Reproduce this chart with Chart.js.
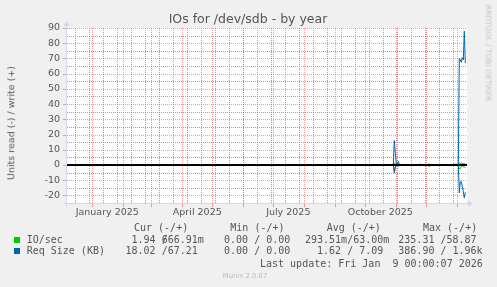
<!DOCTYPE html>
<html>
<head>
<meta charset="utf-8">
<script src="https://cdn.jsdelivr.net/npm/chart.js@4/dist/chart.umd.min.js"></script>
<style>
  html, body { margin: 0; padding: 0; background: #F0F0F0; }
  #wrap { position: relative; width: 497px; height: 287px; overflow: hidden; background: #F0F0F0; }
  #c { position: absolute; left: 0; top: 0; }
  .t { position: absolute; white-space: pre; line-height: 1; color: #555; }
  .mono { font-family: "DejaVu Sans Mono", monospace; font-size: 10px; }
  .sq { position: absolute; width: 6px; height: 6px; }
</style>
</head>
<body>
<div id="wrap">
  <canvas id="c" width="497" height="287"></canvas>
</div>
<script>
// ---------- data (days since 1 Jan 2025) ----------
const days      = [300, 301, 302, 303, 304, 305, 306, 307, 308, 327, 328, 329, 336, 337, 338, 360, 361, 362, 363, 364, 365, 366, 367, 368, 369, 370, 371, 372, 373];
const reqWrite  = [0,   0,   16,  8,   1,   0.5, 2.4, 0.4, 0,   0,   0.8, 0,   0,   0.6, 0,   0,   0.5, 0.3, 0.6, 0.5, 0.4, 0,   70,  69,  67.5, 70.5, 69, 88,  67];
const reqRead   = [0,   0,   -5.3,-1.5,0,   0,   -1,  0,   0,   0,   0,   0,   0,   0,   0,   0,   0,   0,   0,   0,   0,   0,   -18.4,-11,-11, -14, -17.5,-21.7,-18];
const ioWrite   = [0,   0,   1.2, 0.8, 0.5, 0.3, 0.5, 0.2, 0,   0,   0,   0,   0,   0,   0,   0,   0,   0,   0,   0,   0,   0,   1.5, 1.0, 1.2, 0.9, 1.0, 0.8, 1.0];
const ioRead    = [0,   0,   -4,  -1.5,-0.3,0,   0,   0,   0,   0,   0,   0,   0,   -1.2,0,   0,   0,   0,   0,   0,   0,   0,   -2.5,-2.5,-1,  -0.5,-1.2,-1.5,-1.5];

const xMin = -25.3, xMax = 374.7;           // visible range in days
const yMin = -25, yMax = 90;
const yTicks = [-20, -10, 0, 10, 20, 30, 40, 50, 60, 70, 80, 90];
const xLabelDays = [15, 105, 196, 288];
const xLabels = ['January 2025', 'April 2025', 'July 2025', 'October 2025'];
const monthStarts = [0, 31, 59, 90, 120, 151, 181, 212, 243, 273, 304, 334, 365];
const minorStart = -17, minorStep = 14;

// ---------- texts ----------
const title = 'IOs for /dev/sdb - by year';
const yTitle = 'Units read (-) / write (+)';
const watermark = 'RRDTOOL / TOBI OETIKER';
const footer = 'Munin 2.0.67';
const lastUpdate = 'Last update: Fri Jan  9 00:00:07 2026';
const legendHeader = 'Cur (-/+)       Min (-/+)       Avg (-/+)       Max (-/+)';
const legendNames = ['IO/sec', 'Req Size (KB)'];
const legendColors = ['#00CC00', '#0066B3'];
const curR = ['  1.94 ', ' 18.02 '], curW = ['666.91m', ' 67.21 '];
const minR = ['  0.00 ', '  0.00 '], minW = ['  0.00 ', '  0.00 '];
const avgR = ['293.51m', '  1.62 '], avgW = [' 63.00m', '  7.09 '];
const maxR = ['235.31 ', '386.90 '], maxW = [' 58.87 ', '  1.96k'];

// ---------- html texts ----------
const wrap = document.getElementById('wrap');
function addText(str, cls, style) {
  const d = document.createElement('div');
  d.className = 't ' + (cls || '');
  d.textContent = str;
  Object.assign(d.style, style);
  wrap.appendChild(d);
  return d;
}
addText(title, '', { fontFamily: 'DejaVu Sans', fontSize: '12.5px', left: '248px', top: '12.5px', transform: 'translateX(-50%)' });
addText(yTitle, '', { fontFamily: 'DejaVu Sans', fontSize: '9.5px', left: '11px', top: '123px', transform: 'translate(-50%,-50%) rotate(-90deg)' });
addText(watermark, '', { fontFamily: 'DejaVu Sans', fontSize: '7.5px', color: '#c4c4c4', left: '488px', top: '53px', transform: 'translate(-50%,-50%) rotate(90deg)' });
addText(footer, '', { fontFamily: 'DejaVu Sans', fontSize: '6.8px', color: '#bcbcbc', left: '245px', top: '275.8px', transform: 'translate(-50%,-50%)' });

const cw = 6.02;
const rowCenters = [239.7, 250.8];
addText(legendHeader, 'mono', { left: '134px', top: (228 - 5) + 'px' });
const colStarts = [119.5, 212, 305, 398.3];
const cols = [[curR, curW], [minR, minW], [avgR, avgW], [maxR, maxW]];
legendNames.forEach((name, i) => {
  const top = rowCenters[i] - 5;
  const sq = document.createElement('div');
  sq.className = 'sq';
  sq.style.left = '14px';
  sq.style.top = (rowCenters[i] - 3) + 'px';
  sq.style.background = legendColors[i];
  wrap.appendChild(sq);
  addText(name, 'mono', { left: '26.7px', top: top + 'px' });
  cols.forEach(([R, W], c) => {
    addText(R[i] + '/', 'mono', { left: colStarts[c] + 'px', top: top + 'px' });
    addText(W[i], 'mono', { left: (colStarts[c] + 7 * cw) + 'px', top: top + 'px' });
  });
});
addText(lastUpdate, 'mono', { left: '260px', top: (263.8 - 5) + 'px' });

// ---------- chart ----------
const MGRID = 'rgba(222,79,79,0.55)';
const GRID = 'rgba(140,140,140,0.8)';
const AXIS = '#CFD6F8';

const gridPlugin = {
  id: 'rrdgrid',
  beforeDatasetsDraw(chart) {
    const { ctx, chartArea: a, scales: { x, y } } = chart;
    ctx.save();
    ctx.fillStyle = '#FFFFFF';
    ctx.fillRect(a.left, a.top, a.right - a.left, a.bottom - a.top);
    ctx.lineWidth = 1;
    ctx.setLineDash([1, 1]);
    const vline = (d, col) => {
      const px = Math.round(x.getPixelForValue(d)) + 0.5;
      if (px < a.left || px > a.right) return;
      ctx.strokeStyle = col;
      ctx.beginPath(); ctx.moveTo(px, a.top); ctx.lineTo(px, a.bottom); ctx.stroke();
    };
    const hline = (v, col) => {
      const py = Math.round(y.getPixelForValue(v)) + 0.5;
      ctx.strokeStyle = col;
      ctx.beginPath(); ctx.moveTo(a.left, py); ctx.lineTo(a.right, py); ctx.stroke();
    };
    for (let d = minorStart; d <= xMax; d += minorStep) vline(d, GRID);
    for (let v = -15; v <= 85; v += 10) hline(v, GRID);
    monthStarts.forEach(d => vline(d, MGRID));
    yTicks.forEach(v => { if (v !== 0) hline(v, MGRID); });
    ctx.restore();
  },
  afterDraw(chart) {
    const { ctx, chartArea: a, scales: { x, y } } = chart;
    ctx.save();
    ctx.setLineDash([]);
    ctx.lineWidth = 1;
    // ticks
    ctx.strokeStyle = MGRID;
    yTicks.forEach(v => {
      const py = Math.round(y.getPixelForValue(v)) + 0.5;
      ctx.beginPath(); ctx.moveTo(a.left - 4, py); ctx.lineTo(a.left - 1, py); ctx.stroke();
    });
    monthStarts.forEach(d => {
      const px = Math.round(x.getPixelForValue(d)) + 0.5;
      if (px < a.left || px > a.right) return;
      ctx.beginPath(); ctx.moveTo(px, a.bottom + 1); ctx.lineTo(px, a.bottom + 4); ctx.stroke();
    });
    // axes
    ctx.strokeStyle = AXIS; ctx.fillStyle = AXIS;
    const yb = a.bottom + 0.5, xl = a.left - 0.5;
    ctx.beginPath(); ctx.moveTo(a.left - 4, yb); ctx.lineTo(a.right + 2, yb); ctx.stroke();
    ctx.beginPath(); ctx.moveTo(xl, a.bottom + 4); ctx.lineTo(xl, a.top - 3); ctx.stroke();
    ctx.beginPath(); ctx.moveTo(a.right + 1, yb - 3); ctx.lineTo(a.right + 6, yb); ctx.lineTo(a.right + 1, yb + 3); ctx.closePath(); ctx.fill();
    ctx.beginPath(); ctx.moveTo(xl - 3, a.top - 2); ctx.lineTo(xl, a.top - 7); ctx.lineTo(xl + 3, a.top - 2); ctx.closePath(); ctx.fill();
    ctx.restore();
  }
};

const pts = arr => days.map((d, i) => ({ x: d, y: arr[i] }));

new Chart(document.getElementById('c'), {
  type: 'line',
  data: {
    datasets: [
      { data: [{ x: xMin, y: 0 }, { x: xMax, y: 0 }], borderColor: '#000000', borderWidth: 2 },
      { data: pts(reqWrite), borderColor: '#0066B3', borderWidth: 1 },
      { data: pts(reqRead), borderColor: '#0066B3', borderWidth: 1 },
      { data: pts(ioWrite), borderColor: '#00CC00', borderWidth: 1 },
      { data: pts(ioRead), borderColor: '#00CC00', borderWidth: 1 }
    ]
  },
  options: {
    responsive: false,
    animation: false,
    devicePixelRatio: 1,
    layout: { padding: { left: 0, right: 30, top: 28, bottom: 0 } },
    plugins: { legend: { display: false }, tooltip: { enabled: false }, title: { display: false } },
    elements: { point: { radius: 0 }, line: { tension: 0, fill: false } },
    scales: {
      x: {
        type: 'linear', min: xMin, max: xMax,
        grid: { display: false, drawTicks: false },
        border: { display: false },
        afterBuildTicks: s => { s.ticks = xLabelDays.map(v => ({ value: v })); },
        ticks: {
          autoSkip: false, maxRotation: 0, padding: 4,
          color: '#555', font: { family: 'DejaVu Sans', size: 9.5 },
          callback: (v, i) => xLabels[i]
        },
        afterFit: s => { s.height = 84; }
      },
      y: {
        min: yMin, max: yMax,
        grid: { display: false, drawTicks: false },
        border: { display: false },
        afterBuildTicks: s => { s.ticks = yTicks.map(v => ({ value: v })); },
        ticks: { padding: 7, color: '#555', font: { family: 'DejaVu Sans', size: 9.5 } },
        afterFit: s => { s.width = 67; }
      }
    }
  },
  plugins: [gridPlugin]
});
</script>
</body>
</html>
